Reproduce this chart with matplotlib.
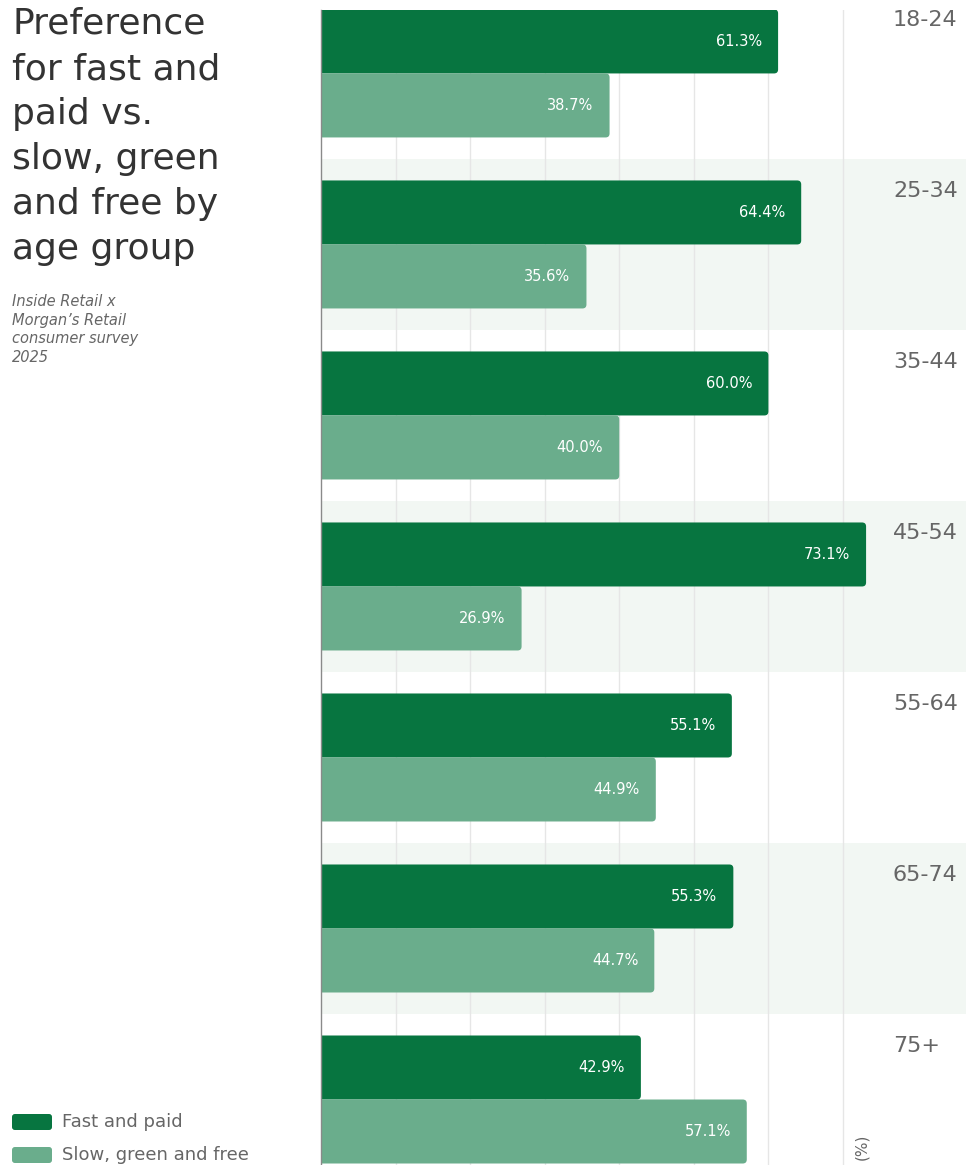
import matplotlib
matplotlib.use("Agg")
import matplotlib.pyplot as plt
from matplotlib.patches import FancyBboxPatch

# Survey results by age group (%)
age_groups = ["18-24", "25-34", "35-44", "45-54", "55-64", "65-74", "75+"]
fast_paid = [61.3, 64.4, 60.0, 73.1, 55.1, 55.3, 42.9]
slow_green_free = [38.7, 35.6, 40.0, 26.9, 44.9, 44.7, 57.1]
series_names = ["Fast and paid", "Slow, green and free"]

DARK = "#077540"
LIGHT = "#6aad8c"
BAND = "#f2f7f3"
GRID = "#e6e6e6"
TEXT = "#333333"
MUTED = "#666666"

plt.rcParams["font.family"] = ["DejaVu Sans"]

W, H = 966, 1165
fig = plt.figure(figsize=(W / 100, H / 100), dpi=100)

# plot area in pixels: x 321..966, y 10..1165
ax = fig.add_axes([321 / W, 0, (966 - 321) / W, (1165 - 10) / H])
x_max = 86.5
ax.set_xlim(0, x_max)
ax.set_ylim(6.383, -0.371)

n = len(age_groups)
bar_h = 64 / 171
off = 32 / 171

# alternating background bands
for i in range(n):
    if i % 2 == 1:
        ax.axhspan(i - 0.5, i + 0.5, color=BAND, lw=0, zorder=0)

for g in range(10, 80, 10):
    ax.axvline(g, color=GRID, lw=1, zorder=1)

# x units per pixel vs y units per pixel, for round corners
px_x = x_max / (966 - 321)
px_y = (6.383 + 0.371) / (1165 - 10)
aspect = px_y / px_x
rad = 4 * px_x


def rounded_bar(y_center, value, color):
    bars = ax.barh([y_center], [value], height=bar_h, color=color, lw=0, zorder=2)
    rect = bars[0]
    rect.set_visible(False)
    p = FancyBboxPatch((-3, y_center - bar_h / 2), value + 3, bar_h,
                       boxstyle=f"round,pad=0,rounding_size={rad}",
                       mutation_aspect=aspect, fc=color, ec="none", zorder=2)
    ax.add_patch(p)


for i in range(n):
    y_fast = i - off
    y_slow = i + off
    rounded_bar(y_fast, fast_paid[i], DARK)
    rounded_bar(y_slow, slow_green_free[i], LIGHT)
    ax.text(fast_paid[i] - 16 * px_x, y_fast, f"{fast_paid[i]:.1f}%",
            color="white", fontsize=10.5, ha="right", va="center", zorder=3)
    ax.text(slow_green_free[i] - 16 * px_x, y_slow, f"{slow_green_free[i]:.1f}%",
            color="white", fontsize=10.5, ha="right", va="center", zorder=3)
    ax.text((893 - 321) * px_x, i - off - bar_h / 2 + 1 * px_y, age_groups[i],
            color=MUTED, fontsize=16, ha="left", va="top", zorder=3)

ax.text((862 - 321) * px_x, 6.383 - 5 * px_y, "(%)", rotation=90,
        color=MUTED, fontsize=11, ha="center", va="bottom")

ax.set_xticks([])
ax.set_yticks([])
for s in ["top", "right", "bottom"]:
    ax.spines[s].set_visible(False)
ax.spines["left"].set_color("#8a8a8a")
ax.spines["left"].set_linewidth(1)

# title and source
fig.text(12 / W, 1 - 7 / H,
         "Preference\nfor fast and\npaid vs.\nslow, green\nand free by\nage group",
         fontsize=26, color=TEXT, ha="left", va="top", linespacing=1.41)
fig.text(12 / W, 1 - 294 / H,
         "Inside Retail x\nMorgan\u2019s Retail\nconsumer survey\n2025",
         fontsize=10.5, style="italic", color=MUTED, ha="left", va="top",
         linespacing=1.3)

# legend
for k, (name, col) in enumerate(zip(series_names, [DARK, LIGHT])):
    yc = 1122 + 33 * k
    fig.patches.append(FancyBboxPatch((12 / W, 1 - (yc + 8) / H), 40 / W, 16 / H,
                                      boxstyle="round,pad=0,rounding_size=0.003",
                                      mutation_aspect=W / H,
                                      transform=fig.transFigure, fc=col, ec="none"))
    fig.text(62 / W, 1 - yc / H, name, fontsize=13, color=MUTED,
             ha="left", va="center")

fig.savefig("out.png", dpi=100)
